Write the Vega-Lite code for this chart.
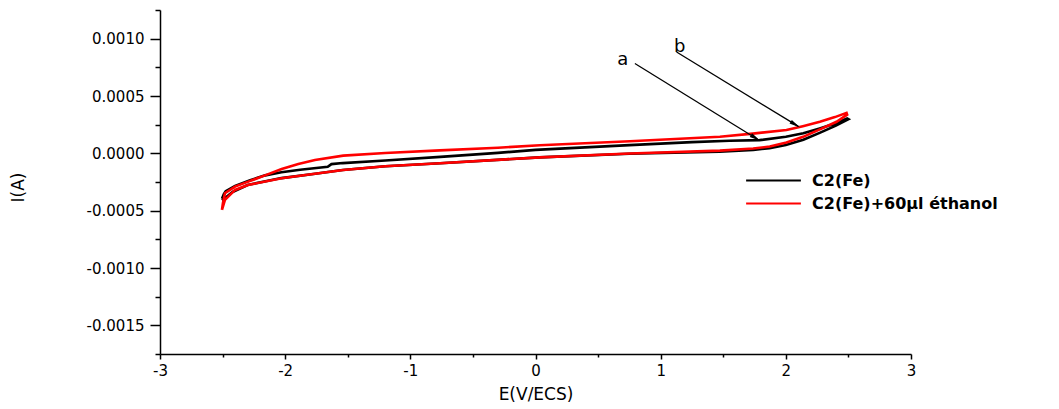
{
  "$schema": "https://vega.github.io/schema/vega-lite/v6.json",
  "autosize": {"type": "none"},
  "width": 751,
  "height": 344,
  "padding": {"left": 160, "top": 10, "right": 148, "bottom": 55},
  "background": "white",
  "config": {
    "view": {"stroke": null},
    "axis": {"grid": false, "domainColor": "black", "tickColor": "black", "labelColor": "black", "titleColor": "black", "labelFont": "DejaVu Sans", "titleFont": "DejaVu Sans", "titleFontWeight": "normal", "domainWidth": 1.5, "tickWidth": 1.5, "labelFlush": false}
  },
  "datasets": {
    "cv": [
      {"s": "C2(Fe)", "k": 1, "E": -2.505, "I": -0.000395},
      {"s": "C2(Fe)", "k": 2, "E": -2.49, "I": -0.000355},
      {"s": "C2(Fe)", "k": 3, "E": -2.475, "I": -0.00033},
      {"s": "C2(Fe)", "k": 4, "E": -2.4, "I": -0.000284},
      {"s": "C2(Fe)", "k": 5, "E": -2.28, "I": -0.000234},
      {"s": "C2(Fe)", "k": 6, "E": -2.16, "I": -0.000192},
      {"s": "C2(Fe)", "k": 7, "E": -2.03, "I": -0.000165},
      {"s": "C2(Fe)", "k": 8, "E": -1.88, "I": -0.000143},
      {"s": "C2(Fe)", "k": 9, "E": -1.66, "I": -0.000118},
      {"s": "C2(Fe)", "k": 10, "E": -1.63, "I": -0.000094},
      {"s": "C2(Fe)", "k": 11, "E": -1.54, "I": -0.000085},
      {"s": "C2(Fe)", "k": 12, "E": -1.2, "I": -0.000062},
      {"s": "C2(Fe)", "k": 13, "E": -0.76, "I": -0.000031},
      {"s": "C2(Fe)", "k": 14, "E": -0.3, "I": 0.000004},
      {"s": "C2(Fe)", "k": 15, "E": 0.0, "I": 0.00003},
      {"s": "C2(Fe)", "k": 16, "E": 0.75, "I": 0.000072},
      {"s": "C2(Fe)", "k": 17, "E": 1.25, "I": 0.000098},
      {"s": "C2(Fe)", "k": 18, "E": 1.55, "I": 0.00011},
      {"s": "C2(Fe)", "k": 19, "E": 1.79, "I": 0.000115},
      {"s": "C2(Fe)", "k": 20, "E": 2.0, "I": 0.000144},
      {"s": "C2(Fe)", "k": 21, "E": 2.14, "I": 0.000175},
      {"s": "C2(Fe)", "k": 22, "E": 2.27, "I": 0.000217},
      {"s": "C2(Fe)", "k": 23, "E": 2.4, "I": 0.000262},
      {"s": "C2(Fe)", "k": 24, "E": 2.49, "I": 0.000304},
      {"s": "C2(Fe)", "k": 25, "E": 2.5, "I": 0.000298},
      {"s": "C2(Fe)", "k": 26, "E": 2.4, "I": 0.000242},
      {"s": "C2(Fe)", "k": 27, "E": 2.27, "I": 0.000178},
      {"s": "C2(Fe)", "k": 28, "E": 2.14, "I": 0.000118},
      {"s": "C2(Fe)", "k": 29, "E": 2.0, "I": 0.000072},
      {"s": "C2(Fe)", "k": 30, "E": 1.87, "I": 0.000045},
      {"s": "C2(Fe)", "k": 31, "E": 1.74, "I": 0.00003},
      {"s": "C2(Fe)", "k": 32, "E": 1.47, "I": 0.000015},
      {"s": "C2(Fe)", "k": 33, "E": 0.75, "I": -0.000003},
      {"s": "C2(Fe)", "k": 34, "E": 0.03, "I": -0.000035},
      {"s": "C2(Fe)", "k": 35, "E": -0.76, "I": -0.000087},
      {"s": "C2(Fe)", "k": 36, "E": -1.2, "I": -0.000112},
      {"s": "C2(Fe)", "k": 37, "E": -1.54, "I": -0.000146},
      {"s": "C2(Fe)", "k": 38, "E": -1.76, "I": -0.000178},
      {"s": "C2(Fe)", "k": 39, "E": -2.03, "I": -0.000216},
      {"s": "C2(Fe)", "k": 40, "E": -2.3, "I": -0.000276},
      {"s": "C2(Fe)", "k": 41, "E": -2.42, "I": -0.000337},
      {"s": "C2(Fe)", "k": 42, "E": -2.48, "I": -0.00039},
      {"s": "C2(Fe)", "k": 43, "E": -2.505, "I": -0.00041},
      {"s": "C2(Fe)+60µl éthanol", "k": 1, "E": -2.505, "I": -0.000493},
      {"s": "C2(Fe)+60µl éthanol", "k": 2, "E": -2.497, "I": -0.000432},
      {"s": "C2(Fe)+60µl éthanol", "k": 3, "E": -2.481, "I": -0.000348},
      {"s": "C2(Fe)+60µl éthanol", "k": 4, "E": -2.401, "I": -0.00029},
      {"s": "C2(Fe)+60µl éthanol", "k": 5, "E": -2.295, "I": -0.000247},
      {"s": "C2(Fe)+60µl éthanol", "k": 6, "E": -2.161, "I": -0.000192},
      {"s": "C2(Fe)+60µl éthanol", "k": 7, "E": -2.028, "I": -0.000137},
      {"s": "C2(Fe)+60µl éthanol", "k": 8, "E": -1.895, "I": -0.000094},
      {"s": "C2(Fe)+60µl éthanol", "k": 9, "E": -1.762, "I": -0.000058},
      {"s": "C2(Fe)+60µl éthanol", "k": 10, "E": -1.536, "I": -0.00002},
      {"s": "C2(Fe)+60µl éthanol", "k": 11, "E": -1.2, "I": 0.000003},
      {"s": "C2(Fe)+60µl éthanol", "k": 12, "E": -0.764, "I": 0.000026},
      {"s": "C2(Fe)+60µl éthanol", "k": 13, "E": -0.3, "I": 0.000049},
      {"s": "C2(Fe)+60µl éthanol", "k": 14, "E": 0.035, "I": 0.00007},
      {"s": "C2(Fe)+60µl éthanol", "k": 15, "E": 0.754, "I": 0.000105},
      {"s": "C2(Fe)+60µl éthanol", "k": 16, "E": 1.473, "I": 0.000144},
      {"s": "C2(Fe)+60µl éthanol", "k": 17, "E": 1.736, "I": 0.000172},
      {"s": "C2(Fe)+60µl éthanol", "k": 18, "E": 2.005, "I": 0.000203},
      {"s": "C2(Fe)+60µl éthanol", "k": 19, "E": 2.136, "I": 0.000237},
      {"s": "C2(Fe)+60µl éthanol", "k": 20, "E": 2.272, "I": 0.000275},
      {"s": "C2(Fe)+60µl éthanol", "k": 21, "E": 2.392, "I": 0.000316},
      {"s": "C2(Fe)+60µl éthanol", "k": 22, "E": 2.485, "I": 0.000353},
      {"s": "C2(Fe)+60µl éthanol", "k": 23, "E": 2.49, "I": 0.000337},
      {"s": "C2(Fe)+60µl éthanol", "k": 24, "E": 2.405, "I": 0.000275},
      {"s": "C2(Fe)+60µl éthanol", "k": 25, "E": 2.272, "I": 0.000209},
      {"s": "C2(Fe)+60µl éthanol", "k": 26, "E": 2.138, "I": 0.000144},
      {"s": "C2(Fe)+60µl éthanol", "k": 27, "E": 2.005, "I": 0.000094},
      {"s": "C2(Fe)+60µl éthanol", "k": 28, "E": 1.872, "I": 0.000059},
      {"s": "C2(Fe)+60µl éthanol", "k": 29, "E": 1.739, "I": 0.000042},
      {"s": "C2(Fe)+60µl éthanol", "k": 30, "E": 1.473, "I": 0.000024},
      {"s": "C2(Fe)+60µl éthanol", "k": 31, "E": 0.754, "I": -0.000002},
      {"s": "C2(Fe)+60µl éthanol", "k": 32, "E": 0.035, "I": -0.000035},
      {"s": "C2(Fe)+60µl éthanol", "k": 33, "E": -0.764, "I": -0.000087},
      {"s": "C2(Fe)+60µl éthanol", "k": 34, "E": -1.2, "I": -0.000112},
      {"s": "C2(Fe)+60µl éthanol", "k": 35, "E": -1.536, "I": -0.000146},
      {"s": "C2(Fe)+60µl éthanol", "k": 36, "E": -1.762, "I": -0.000178},
      {"s": "C2(Fe)+60µl éthanol", "k": 37, "E": -2.028, "I": -0.000217},
      {"s": "C2(Fe)+60µl éthanol", "k": 38, "E": -2.297, "I": -0.000276},
      {"s": "C2(Fe)+60µl éthanol", "k": 39, "E": -2.4, "I": -0.000319},
      {"s": "C2(Fe)+60µl éthanol", "k": 40, "E": -2.481, "I": -0.000406},
      {"s": "C2(Fe)+60µl éthanol", "k": 41, "E": -2.505, "I": -0.000493}
    ],
    "labels": [
      {"t": "a", "E": 0.698, "I": 0.000811},
      {"t": "b", "E": 1.153, "I": 0.000924}
    ],
    "arrows": [
      {"t": "a", "E": 0.794, "I": 0.000783, "E2": 1.78, "I2": 0.000118},
      {"t": "b", "E": 1.127, "I": 0.000884, "E2": 2.1, "I2": 0.000235}
    ],
    "heads": [
      {"t": "a", "E": 1.758, "I": 0.000134},
      {"t": "b", "E": 2.076, "I": 0.00025}
    ]
  },
  "resolve": {"axis": {"x": "independent", "y": "independent"}},
  "layer": [
    {
      "data": {"name": "heads"},
      "mark": {"type": "point", "opacity": 0},
      "encoding": {
        "x": {"field": "E", "type": "quantitative", "scale": {"domain": [-3, 3], "nice": false, "zero": false},
              "axis": {"orient": "bottom", "values": [-2.5, -1.5, -0.5, 0.5, 1.5, 2.5], "labels": false, "domain": false, "tickSize": 3, "title": null}},
        "y": {"field": "I", "type": "quantitative", "scale": {"domain": [-0.00175, 0.00125], "nice": false, "zero": false},
              "axis": {"orient": "left", "values": [-0.00175, -0.00125, -0.00075, -0.00025, 0.00025, 0.00075, 0.00125], "labels": false, "domain": false, "tickSize": 5, "title": null}}
      }
    },
    {
      "data": {"name": "cv"},
      "mark": {"type": "line", "strokeWidth": 2.6, "interpolate": "linear"},
      "encoding": {
        "x": {"field": "E", "type": "quantitative",
              "axis": {"orient": "bottom", "values": [-3, -2, -1, 0, 1, 2, 3], "labelExpr": "'' + datum.value", "tickSize": 5, "labelPadding": 4, "labelFontSize": 15, "title": "E(V/ECS)", "titleFontSize": 17, "titlePadding": 8}},
        "y": {"field": "I", "type": "quantitative",
              "axis": {"orient": "left", "values": [-0.0015, -0.001, -0.0005, 0, 0.0005, 0.001], "labelExpr": "datum.value < 0 ? '-' + format(-datum.value, '.4f') : format(datum.value, '.4f')", "tickSize": 10, "labelPadding": 6, "labelFontSize": 15, "title": "I(A)", "titleFontSize": 17, "titleX": -142, "titleY": 177, "titleAngle": 270, "titleBaseline": "middle"}},
        "color": {"field": "s", "type": "nominal",
                  "scale": {"domain": ["C2(Fe)", "C2(Fe)+60µl éthanol"], "range": ["#000000", "#ff0000"]},
                  "legend": {"orient": "none", "legendX": 585, "legendY": 162, "title": null, "symbolType": "stroke", "symbolSize": 3000, "symbolStrokeWidth": 2, "labelFont": "DejaVu Sans", "labelFontWeight": "bold", "labelFontSize": 16, "labelColor": "black", "labelOffset": 10, "labelLimit": 400, "clipHeight": 17, "rowPadding": 6}},
        "order": {"field": "k", "type": "quantitative"}
      }
    },
    {
      "data": {"name": "arrows"},
      "mark": {"type": "rule", "color": "black", "strokeWidth": 1.3},
      "encoding": {
        "x": {"field": "E", "type": "quantitative", "axis": null},
        "y": {"field": "I", "type": "quantitative", "axis": null},
        "x2": {"field": "E2"},
        "y2": {"field": "I2"}
      }
    },
    {
      "data": {"name": "heads"},
      "mark": {"type": "point", "shape": "M0,-1L0.4,1L-0.4,1Z", "filled": true, "color": "black", "opacity": 1, "size": 120, "angle": 122},
      "encoding": {
        "x": {"field": "E", "type": "quantitative", "axis": null},
        "y": {"field": "I", "type": "quantitative", "axis": null}
      }
    },
    {
      "data": {"name": "labels"},
      "mark": {"type": "text", "font": "DejaVu Sans", "fontSize": 18, "color": "black", "align": "center", "baseline": "middle"},
      "encoding": {
        "x": {"field": "E", "type": "quantitative", "axis": null},
        "y": {"field": "I", "type": "quantitative", "axis": null},
        "text": {"field": "t"}
      }
    }
  ]
}
